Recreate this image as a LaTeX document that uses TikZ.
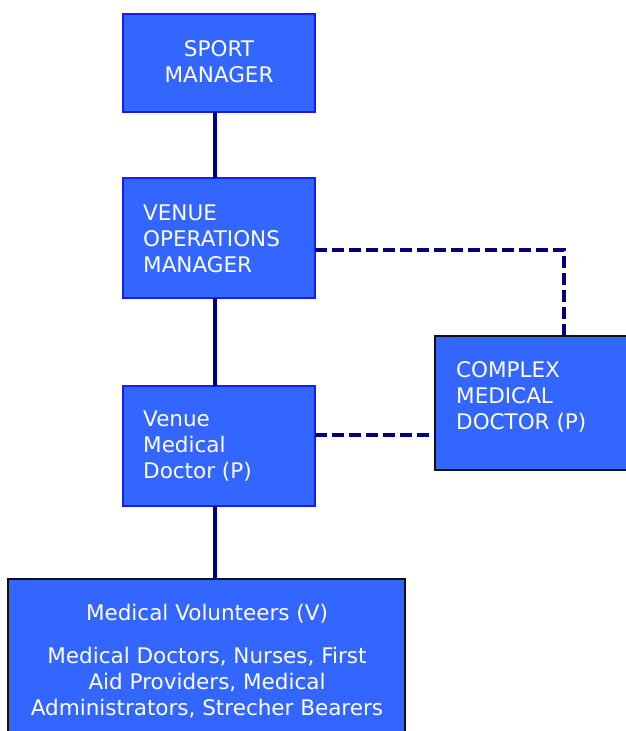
\documentclass[tikz,border=0pt]{standalone}
\usepackage{fontspec}
\setmainfont{DejaVu Sans}
\definecolor{boxfill}{HTML}{3366FF}
\definecolor{blueedge}{HTML}{1A1AFF}
\definecolor{darkedge}{HTML}{111111}
\definecolor{linkcol}{HTML}{000080}
\begin{document}
\begin{tikzpicture}[x=1pt,y=-1pt,
  unit/.style={draw=blueedge, fill=boxfill, line width=1.6pt, inner sep=0pt,
    outer sep=0pt, anchor=north west},
  darkunit/.style={unit, draw=darkedge},
  lbl/.style={text=white, font=\fontsize{21.5}{26}\selectfont, inner sep=0pt},
  solidlink/.style={draw=linkcol, line width=3.8pt},
  dashlink/.style={draw=linkcol, line width=3.8pt, dash pattern=on 12pt off 5pt}]
  \useasboundingbox (0,0) rectangle (626,731);

  % boxes
  \node[unit, minimum width=192pt, minimum height=98pt] (sm) at (123,14) {};
  \node[unit, minimum width=192pt, minimum height=120pt] (vo) at (123,178) {};
  \node[unit, minimum width=192pt, minimum height=120pt] (vm) at (123,386) {};
  \node[darkunit, minimum width=200pt, minimum height=134pt] (cm) at (435,336) {};
  \node[darkunit, minimum width=397pt, minimum height=170pt] (mv) at (8,579) {};

  % reference points for the connectors
  \coordinate (spine) at (215,0);
  \coordinate (voout) at (0,250);
  \coordinate (vmout) at (0,435);
  \coordinate (drop) at (564,0);

  % solid reporting lines
  \draw[solidlink] (sm.south -| spine) -- (vo.north -| spine);
  \draw[solidlink] (vo.south -| spine) -- (vm.north -| spine);
  \draw[solidlink] (vm.south -| spine) -- (mv.north -| spine);

  % dashed liaison lines
  \draw[dashlink] (vo.east |- voout) -| (cm.north -| drop);
  \draw[dashlink] (vm.east |- vmout) -- (cm.west |- vmout);

  % labels
  \node[lbl, align=center] (smt) at (219,61.5) {SPORT\\MANAGER};
  \node[lbl, align=left, anchor=west] (vot) at (143,238.5) {VENUE\\OPERATIONS\\MANAGER};
  \node[lbl, align=left, anchor=west] (vmt) at (143,446.5) {Venue\\Medical\\Doctor (P)};
  \node[lbl, align=left, anchor=west] (cmt) at (456,396.5) {COMPLEX\\MEDICAL\\DOCTOR (P)};
  \node[lbl, align=center] (mvt) at (207,613.5) {Medical Volunteers (V)};
  \node[lbl, align=center] (mvb) at (207,682.5) {Medical Doctors, Nurses, First\\Aid Providers, Medical\\Administrators, Strecher Bearers};
\end{tikzpicture}
\end{document}
